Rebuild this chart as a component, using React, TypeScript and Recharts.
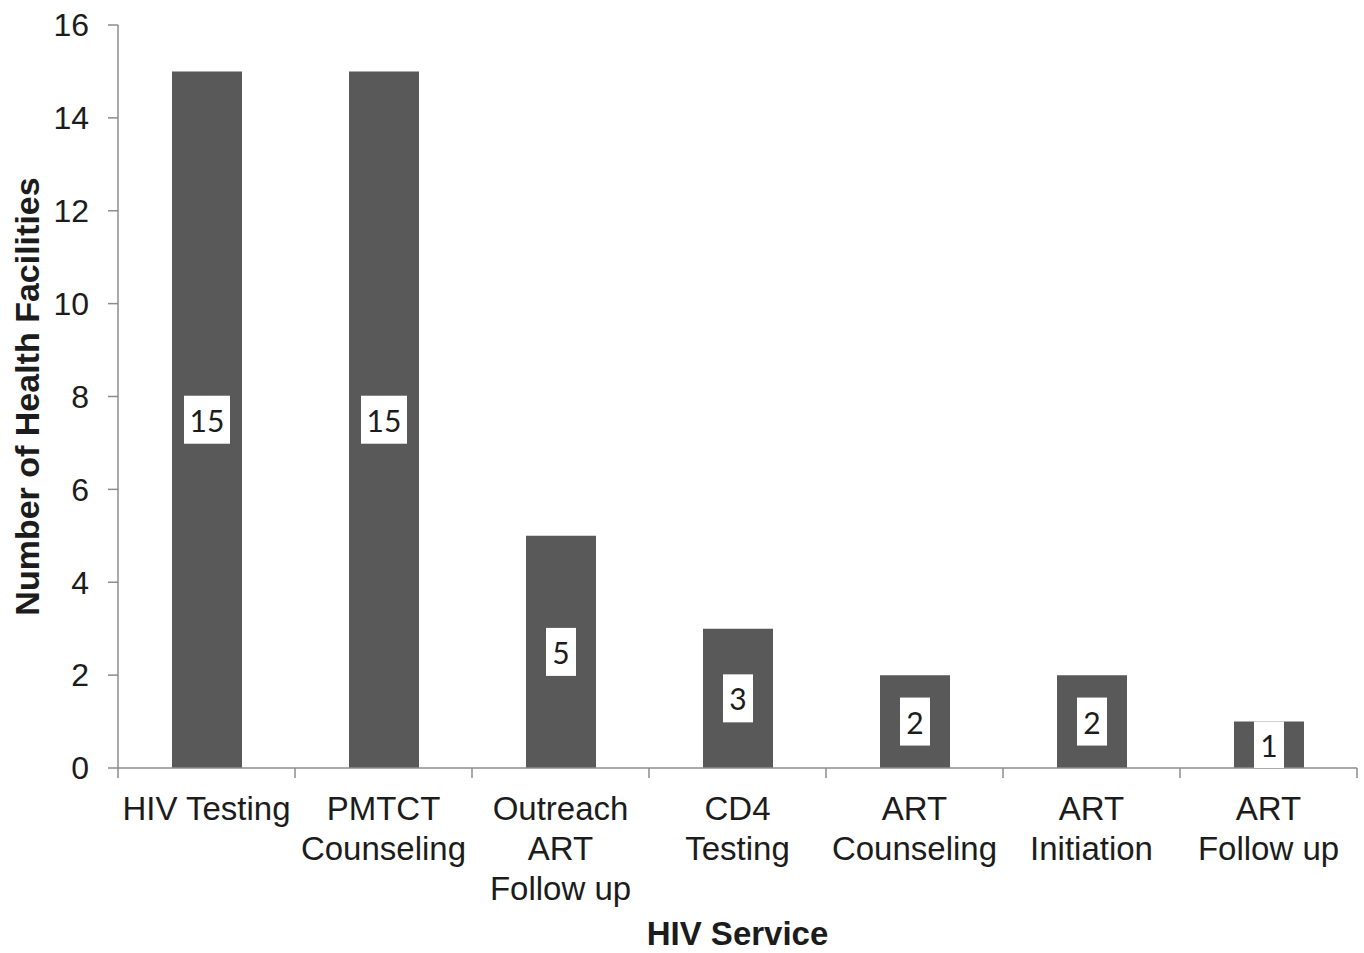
import React from "react"
import { BarChart, Bar, XAxis, YAxis, LabelList, Label } from "recharts"

const SERVICES = [
  "HIV Testing",
  "PMTCT Counseling",
  "Outreach ART Follow up",
  "CD4 Testing",
  "ART Counseling",
  "ART Initiation",
  "ART Follow up",
]
// how the tick labels break onto lines
const SERVICE_LINES = [
  ["HIV Testing"],
  ["PMTCT", "Counseling"],
  ["Outreach", "ART", "Follow up"],
  ["CD4", "Testing"],
  ["ART", "Counseling"],
  ["ART", "Initiation"],
  ["ART", "Follow up"],
]
const FACILITIES = [15, 15, 5, 3, 2, 2, 1]
const Y_TICKS = [0, 2, 4, 6, 8, 10, 12, 14, 16]

const W = 1364
const H = 953
const MARGIN = { top: 25, right: 7, left: 0, bottom: 0 }
const Y_AXIS_W = 118
const BAND = (W - MARGIN.left - MARGIN.right - Y_AXIS_W) / SERVICES.length

const AXIS_GRAY = "#8c8c8c"
const TEXT = "#1c1c1c"
const BAR = "#595959"
const FONT = "'Liberation Sans', Arial, sans-serif"

const data = SERVICES.map((s, i) => ({ service: s, count: FACILITIES[i] }))

function ServiceTick(props: any) {
  const { x, y, payload, index } = props
  const lines = SERVICE_LINES[index] ?? [payload.value]
  const left = x - BAND / 2
  const right = x + BAND / 2
  return (
    <g>
      <line x1={left} x2={left} y1={y - 10} y2={y} stroke={AXIS_GRAY} strokeWidth={1.5} />
      {index === SERVICES.length - 1 && (
        <line x1={right} x2={right} y1={y - 10} y2={y} stroke={AXIS_GRAY} strokeWidth={1.5} />
      )}
      <text x={x} y={y} textAnchor="middle" fill={TEXT} fontFamily={FONT} fontSize={33}>
        {lines.map((ln: string, i: number) => (
          <tspan key={i} x={x} dy={i === 0 ? 42 : 40}>
            {ln}
          </tspan>
        ))}
      </text>
    </g>
  )
}

function ValueBox(props: any) {
  const { x, y, width, height, value } = props
  const cx = x + width / 2
  const cy = y + height / 2
  const txt = String(value)
  const bw = txt.length * 16 + 14
  const bh = Math.min(48, height)
  return (
    <g>
      <rect x={cx - bw / 2} y={cy - bh / 2} width={bw} height={bh} fill="#ffffff" />
      <text
        x={cx}
        y={cy}
        textAnchor="middle"
        dominantBaseline="central"
        fill={TEXT}
        fontFamily="Lato, 'Open Sans', sans-serif"
        fontSize={30}
      >
        {txt}
      </text>
    </g>
  )
}

function YTitle(props: any) {
  const { viewBox } = props
  const cy = viewBox.y + viewBox.height / 2
  const cx = 27
  return (
    <text
      x={cx}
      y={cy}
      transform={`rotate(-90, ${cx}, ${cy})`}
      textAnchor="middle"
      dominantBaseline="central"
      fill={TEXT}
      fontFamily={FONT}
      fontWeight="bold"
      fontSize={34}
    >
      Number of Health Facilities
    </text>
  )
}

export default function App() {
  return (
    <div style={{ position: "absolute", left: 0, top: 0, width: W, height: H, background: "#fff" }}>
      <BarChart width={W} height={H} data={data} margin={MARGIN} barSize={70}>
        <XAxis
          dataKey="service"
          height={H - 768}
          interval={0}
          tickLine={false}
          tickSize={10}
          tickMargin={0}
          axisLine={{ stroke: AXIS_GRAY, strokeWidth: 1.5 }}
          tick={<ServiceTick />}
        >
          <Label
            value="HIV Service"
            position="insideBottom"
            offset={8}
            fill={TEXT}
            fontFamily={FONT}
            fontWeight="bold"
            fontSize={33}
          />
        </XAxis>
        <YAxis
          width={Y_AXIS_W}
          domain={[0, 16]}
          ticks={Y_TICKS}
          interval={0}
          tickSize={10}
          tickMargin={19}
          axisLine={{ stroke: AXIS_GRAY, strokeWidth: 1.5 }}
          tickLine={{ stroke: AXIS_GRAY, strokeWidth: 1.5 }}
          tick={{ fill: TEXT, fontFamily: FONT, fontSize: 32 }}
        >
          <Label content={<YTitle />} />
        </YAxis>
        <Bar dataKey="count" fill={BAR} isAnimationActive={false}>
          <LabelList dataKey="count" content={<ValueBox />} />
        </Bar>
      </BarChart>
    </div>
  )
}
